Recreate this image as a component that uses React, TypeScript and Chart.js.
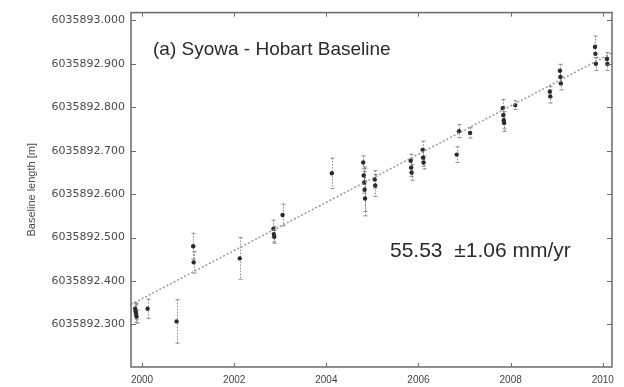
import React, { useEffect, useRef } from "react";
import { Chart, registerables } from "chart.js";

Chart.register(...registerables);

// Observation epochs (decimal years)
const YEARS = [
  1999.85, 1999.86, 1999.87, 1999.88,
  2000.12,
  2000.75,
  2001.11, 2001.12,
  2002.12,
  2002.85, 2002.86, 2002.87,
  2003.05,
  2004.12,
  2004.8, 2004.81, 2004.82, 2004.83, 2004.84,
  2005.05, 2005.06,
  2005.83, 2005.84, 2005.85,
  2006.09, 2006.1, 2006.11,
  2006.83, 2006.88,
  2007.12,
  2007.83, 2007.84, 2007.85, 2007.86,
  2008.1,
  2008.85, 2008.86,
  2009.07, 2009.08, 2009.09,
  2009.83, 2009.84, 2009.85,
  2010.09, 2010.1,
];

// Baseline lengths [m]
const LENGTHS = [
  6035892.336, 6035892.330, 6035892.325, 6035892.318,
  6035892.336,
  6035892.307,
  6035892.480, 6035892.443,
  6035892.452,
  6035892.520, 6035892.508, 6035892.502,
  6035892.552,
  6035892.648,
  6035892.673, 6035892.643, 6035892.627, 6035892.610, 6035892.590,
  6035892.634, 6035892.620,
  6035892.677, 6035892.661, 6035892.650,
  6035892.702, 6035892.684, 6035892.673,
  6035892.691, 6035892.745,
  6035892.741,
  6035892.798, 6035892.782, 6035892.770, 6035892.764,
  6035892.805,
  6035892.836, 6035892.825,
  6035892.884, 6035892.870, 6035892.855,
  6035892.939, 6035892.923, 6035892.900,
  6035892.911, 6035892.900,
];

// 1-sigma errors [m]
const ERRORS = [
  0.015, 0.018, 0.02, 0.015,
  0.022,
  0.05,
  0.03, 0.025,
  0.048,
  0.02, 0.018, 0.015,
  0.025,
  0.035,
  0.015, 0.02, 0.025, 0.05, 0.04,
  0.02, 0.025,
  0.015, 0.02, 0.018,
  0.02, 0.02, 0.015,
  0.018, 0.015,
  0.012,
  0.02, 0.02, 0.02, 0.02,
  0.01,
  0.012, 0.015,
  0.015, 0.015, 0.015,
  0.025, 0.02, 0.015,
  0.015, 0.015,
];

// Linear trend (55.53 mm/yr)
const TREND_YEARS = [1999.76, 2010.2];
const TREND_LENGTHS = [6035892.346, 6035892.925];

const X_TICKS = [2000, 2002, 2004, 2006, 2008, 2010];
const Y_TICKS = [
  6035892.3, 6035892.4, 6035892.5, 6035892.6, 6035892.7, 6035892.8, 6035892.9, 6035893.0,
];

const TITLE_TEXT = "(a) Syowa - Hobart Baseline";
const RATE_TEXT = "55.53  \u00b11.06 mm/yr";
const Y_TITLE = "Baseline length [m]";

const FONT = "'Liberation Sans', Arial, sans-serif";

const errorBarPlugin = {
  id: "errorBars",
  beforeDatasetsDraw(chart: any) {
    const { ctx, scales } = chart;
    const x = scales.x;
    const y = scales.y;
    ctx.save();
    ctx.strokeStyle = "#8c8c8c";
    ctx.lineWidth = 1;
    YEARS.forEach((t, i) => {
      const px = Math.round(x.getPixelForValue(t)) + 0.5;
      const y1 = y.getPixelForValue(LENGTHS[i] + ERRORS[i]);
      const y2 = y.getPixelForValue(LENGTHS[i] - ERRORS[i]);
      ctx.setLineDash([1.5, 1.5]);
      ctx.beginPath();
      ctx.moveTo(px, y1);
      ctx.lineTo(px, y2);
      ctx.stroke();
      ctx.setLineDash([]);
      ctx.beginPath();
      ctx.moveTo(px - 2, y1);
      ctx.lineTo(px + 2, y1);
      ctx.moveTo(px - 2, y2);
      ctx.lineTo(px + 2, y2);
      ctx.stroke();
    });
    ctx.restore();
  },
};

const framePlugin = {
  id: "frame",
  afterDraw(chart: any) {
    const { ctx, chartArea, scales } = chart;
    const { left, right, top, bottom } = chartArea;
    ctx.save();
    ctx.strokeStyle = "#6a6a6a";
    ctx.lineWidth = 1.5;
    ctx.strokeRect(left, top, right - left, bottom - top);
    ctx.lineWidth = 1;
    ctx.beginPath();
    scales.x.ticks.forEach((_t: any, i: number) => {
      const px = Math.round(scales.x.getPixelForTick(i)) + 0.5;
      ctx.moveTo(px, bottom);
      ctx.lineTo(px, bottom - 4);
      ctx.moveTo(px, top);
      ctx.lineTo(px, top + 4);
    });
    scales.y.ticks.forEach((_t: any, i: number) => {
      const py = Math.round(scales.y.getPixelForTick(i)) + 0.5;
      ctx.moveTo(left, py);
      ctx.lineTo(left + 5, py);
      ctx.moveTo(right, py);
      ctx.lineTo(right - 5, py);
    });
    ctx.stroke();

    // annotations
    ctx.textBaseline = "middle";
    ctx.textAlign = "left";
    ctx.fillStyle = "#2a2a2a";
    ctx.font = `19px ${FONT}`;
    ctx.fillText(TITLE_TEXT, left + 22, top + 37);
    ctx.font = `21px ${FONT}`;
    ctx.fillText(RATE_TEXT, left + 259, top + 239);
    ctx.restore();
  },
};

export default function App() {
  const ref = useRef<HTMLCanvasElement | null>(null);

  useEffect(() => {
    document.body.style.margin = "0";
    const canvas = ref.current;
    if (!canvas) return;
    const chart = new Chart(canvas, {
      type: "scatter",
      data: {
        datasets: [
          {
            label: "trend",
            data: TREND_YEARS.map((t, i) => ({ x: t, y: TREND_LENGTHS[i] })),
            showLine: true,
            borderColor: "#9a9a9a",
            borderWidth: 1.5,
            borderDash: [2, 2],
            pointRadius: 0,
            fill: false,
          },
          {
            label: "baseline",
            data: YEARS.map((t, i) => ({ x: t, y: LENGTHS[i] })),
            pointRadius: 2.2,
            pointStyle: "circle",
            backgroundColor: "#2a2a2a",
            borderColor: "#2a2a2a",
            borderWidth: 0,
          },
        ],
      },
      options: {
        responsive: false,
        animation: false,
        layout: { padding: { top: 8, right: 12, bottom: 0, left: 0 } },
        plugins: {
          legend: { display: false },
          tooltip: { enabled: false },
        },
        scales: {
          x: {
            type: "linear",
            min: 1999.76,
            max: 2010.2,
            afterBuildTicks: (scale: any) => {
              scale.ticks = X_TICKS.map((v) => ({ value: v }));
            },
            afterFit: (scale: any) => {
              scale.height = 20;
            },
            grid: { display: false, drawTicks: false },
            border: { display: false },
            ticks: {
              padding: 7,
              color: "#444",
              font: { family: FONT, size: 10 },
              maxRotation: 0,
              callback: (v: any) => String(v),
            },
          },
          y: {
            type: "linear",
            min: 6035892.202,
            max: 6035893.018,
            afterBuildTicks: (scale: any) => {
              scale.ticks = Y_TICKS.map((v) => ({ value: v }));
            },
            afterFit: (scale: any) => {
              scale.width = 131;
            },
            grid: { display: false, drawTicks: false },
            border: { display: false },
            ticks: {
              padding: 6,
              color: "#4a4a4a",
              font: { family: "'DejaVu Sans', sans-serif", size: 11 },
              callback: (v: any) => Number(v).toFixed(3),
            },
            title: {
              display: true,
              text: Y_TITLE,
              color: "#4a4a4a",
              font: { family: FONT, size: 11 },
              padding: { top: 25, bottom: 0 },
            },
          },
        },
      },
      plugins: [errorBarPlugin, framePlugin],
    } as any);
    return () => chart.destroy();
  }, []);

  return (
    <div style={{ position: "absolute", left: 0, top: 0, width: 624, height: 387, background: "#fff" }}>
      <canvas ref={ref} width={624} height={387} />
    </div>
  );
}
